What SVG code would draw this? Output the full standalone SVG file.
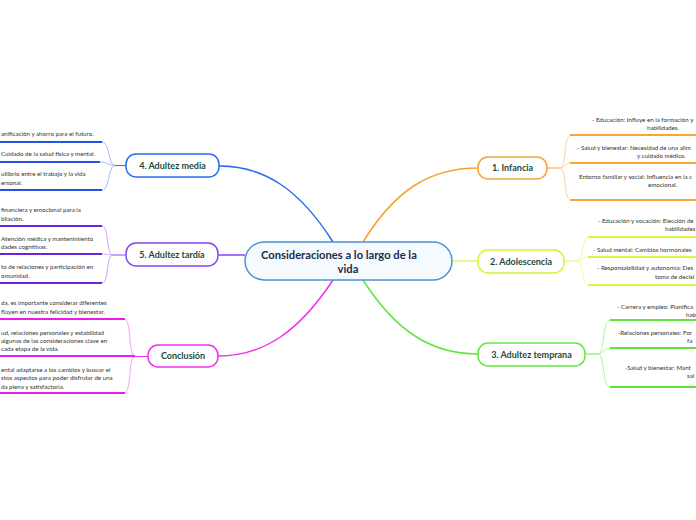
<svg xmlns="http://www.w3.org/2000/svg" width="696" height="520" viewBox="0 0 696 520">
<style>
.node{fill:#ffffff;stroke-width:1.5}
.lbl{font-family:Lato,"Open Sans","Liberation Sans",sans-serif;font-weight:bold;font-size:9px;fill:#1d4a3b;text-anchor:middle}
.ctr{font-family:Lato,"Open Sans","Liberation Sans",sans-serif;font-weight:bold;font-size:11.2px;fill:#1c2b4b}
.t{font-family:Lato,"Open Sans","Liberation Sans",sans-serif;font-size:6.2px;fill:#333333}
.main{fill:none;stroke-width:1.5}
.fan{fill:none;stroke-width:1}
.ul{fill:none;stroke-width:2}
</style>
<rect width="696" height="520" fill="#ffffff"/>
<g id="connectors">
  <path class="main" stroke="#f7a131" d="M363,242 C395,190 430,168 478,168"/>
  <path class="main" stroke="#e2f56a" d="M452,261 L478,261"/>
  <path class="main" stroke="#5fe83e" d="M363,280 C395,330 430,354 478,354"/>
  <path class="main" stroke="#2d6bf0" d="M333,242 C300,190 265,166 219,166"/>
  <path class="main" stroke="#8a45f2" d="M245,255 L218,255"/>
  <path class="main" stroke="#f02ff0" d="M333,280 C300,330 265,356 218,356"/>
  <path class="fan" stroke="#f7a131" d="M547,168 L560,168"/>
  <path class="fan" stroke="#fcd29e" d="M560,168 C567,168 563,135 571,135 M560,168 C566,168 564,163 571,163 M560,168 C567,168 563,200 571,200"/>
  <path class="ul" stroke="#f7a631" d="M570,135 H696 M570,163 H696 M570,200 H696"/>
  <path class="fan" stroke="#dff55a" d="M564,261 L577,261"/>
  <path class="fan" stroke="#eefaa0" d="M577,261 C584,261 581,237 589,237 M577,261 C583,261 582,257 589,257 M577,261 C584,261 581,285 589,285"/>
  <path class="ul" stroke="#dcf53e" d="M588,237 H696 M588,257 H696 M588,285 H696"/>
  <path class="fan" stroke="#5fe83e" d="M585,354 L598,354"/>
  <path class="fan" stroke="#a9f59b" d="M598,354 C605,354 602,320 610,320 M598,354 C604,354 603,348 610,348 M598,354 C605,354 602,387 610,387"/>
  <path class="ul" stroke="#5ce63c" d="M610,320 H696 M610,348 H696 M610,387 H696"/>
  <path class="fan" stroke="#2d6bf0" d="M126,165.5 L115,165.5"/>
  <path class="fan" stroke="#9cbaf7" d="M115,165.5 C108,165.5 110,142 102,142 M115,165.5 C108,165.5 108,162 100,162 M115,165.5 C108,165.5 110,190 102,190"/>
  <path class="ul" stroke="#2353e2" d="M0,142 H102 M0,162 H100 M0,190 H102"/>
  <path class="fan" stroke="#8a45f2" d="M126,255 L113,255"/>
  <path class="fan" stroke="#c3a3f7" d="M113,255 C106,255 109,226 102,226 M113,255 C107,255 108,254 102,254 M113,255 C106,255 109,283 102,283"/>
  <path class="ul" stroke="#6b22e2" d="M0,226 H102 M0,254 H102 M0,283 H102"/>
  <path class="fan" stroke="#f02ff0" d="M148,356.5 L135,356.5"/>
  <path class="fan" stroke="#f7a3f7" d="M135,356.5 C128,356.5 132,319 124,319 M135,356.5 C128,356.5 132,393 124,393"/>
  <path class="ul" stroke="#e81de8" d="M0,319 H125 M0,356 H135 M0,393 H125"/>
</g>
<g id="center">
  <rect x="245" y="242" width="207" height="38" rx="19" fill="#f5fafe" stroke="#4a92d6" stroke-width="1.5"/>
  <text class="ctr" x="261" y="259">Consideraciones a lo largo de la</text>
  <text class="ctr" x="348" y="273" text-anchor="middle">vida</text>
</g>
<g id="n1">
  <rect class="node" x="478" y="157" width="69" height="22" rx="10" stroke="#f7a131"/>
  <text class="lbl" x="512.5" y="171">1. Infancia</text>
</g>
<g id="n2">
  <rect class="node" x="478" y="250" width="86" height="23" rx="10" stroke="#d7f03a"/>
  <text class="lbl" x="521" y="264.5">2. Adolescencia</text>
</g>
<g id="n3">
  <rect class="node" x="478" y="343" width="107" height="23" rx="10" stroke="#5fe83e"/>
  <text class="lbl" x="531.5" y="357.5">3. Adultez temprana</text>
</g>
<g id="n4">
  <rect class="node" x="126" y="154" width="93" height="23" rx="10" stroke="#2d6bf0"/>
  <text class="lbl" x="172.5" y="168.5">4. Adultez media</text>
</g>
<g id="n5">
  <rect class="node" x="126" y="243" width="92" height="23" rx="10" stroke="#8a45f2"/>
  <text class="lbl" x="172" y="257.5">5. Adultez tardía</text>
</g>
<g id="n6">
  <rect class="node" x="148" y="345" width="70" height="22" rx="10" stroke="#f02ff0"/>
  <text class="lbl" x="183" y="359">Conclusión</text>
</g>
<g id="c1a"><text class="t" x="592" y="122">- Educación: Influye en la formación y</text><text class="t" x="647" y="130">habilidades.</text></g>
<g id="c1b"><text class="t" x="577" y="150">- Salud y bienestar: Necesidad de una alim</text><text class="t" x="637" y="158">y cuidado médico.</text></g>
<g id="c1c"><text class="t" x="579" y="179">Entorno familiar y social: Influencia en la c</text><text class="t" x="648" y="187">emocional.</text></g>
<g id="c2a"><text class="t" x="598" y="223">- Educación y vocación: Elección de</text><text class="t" x="665" y="231">habilidades</text></g>
<g id="c2b"><text class="t" x="593" y="252">- Salud mental: Cambios hormonales</text></g>
<g id="c2c"><text class="t" x="597" y="270">- Responsabilidad y autonomía: Des</text><text class="t" x="655" y="279">toma de decisi</text></g>
<g id="c3a"><text class="t" x="617" y="309">- Carrera y empleo: Planifica</text><text class="t" x="686" y="317">hab</text></g>
<g id="c3b"><text class="t" x="618" y="335">-Relaciones personales: For</text><text class="t" x="687" y="343">fa</text></g>
<g id="c3c"><text class="t" x="625" y="370">-Salud y bienestar: Mant</text><text class="t" x="687" y="378">sal</text></g>
<g id="c4a"><text class="t" x="1" y="136">anificación y ahorro para el futuro.</text></g>
<g id="c4b"><text class="t" x="1" y="156">Cuidado de la salud física y mental.</text></g>
<g id="c4c"><text class="t" x="1" y="176">uilibrio entre el trabajo y la vida</text><text class="t" x="1" y="185">ersonal.</text></g>
<g id="c5a"><text class="t" x="1" y="212">financiera y emocional para la</text><text class="t" x="1" y="221">bilación.</text></g>
<g id="c5b"><text class="t" x="1" y="241">Atención médica y mantenimiento</text><text class="t" x="1" y="249">dades cognitivas.</text></g>
<g id="c5c"><text class="t" x="1" y="269">to de relaciones y participación en</text><text class="t" x="1" y="278">omunidad.</text></g>
<g id="c6a"><text class="t" x="1" y="305">da, es importante considerar diferentes</text><text class="t" x="1" y="314">fluyen en nuestra felicidad y bienestar.</text></g>
<g id="c6b"><text class="t" x="1" y="335">ud, relaciones personales y estabilidad</text><text class="t" x="1" y="343">algunas de las consideraciones clave en</text><text class="t" x="1" y="351">cada etapa de la vida.</text></g>
<g id="c6c"><text class="t" x="1" y="372">ental adaptarse a los cambios y buscar el</text><text class="t" x="1" y="380">stos aspectos para poder disfrutar de una</text><text class="t" x="1" y="389">da plena y satisfactoria.</text></g>
</svg>
